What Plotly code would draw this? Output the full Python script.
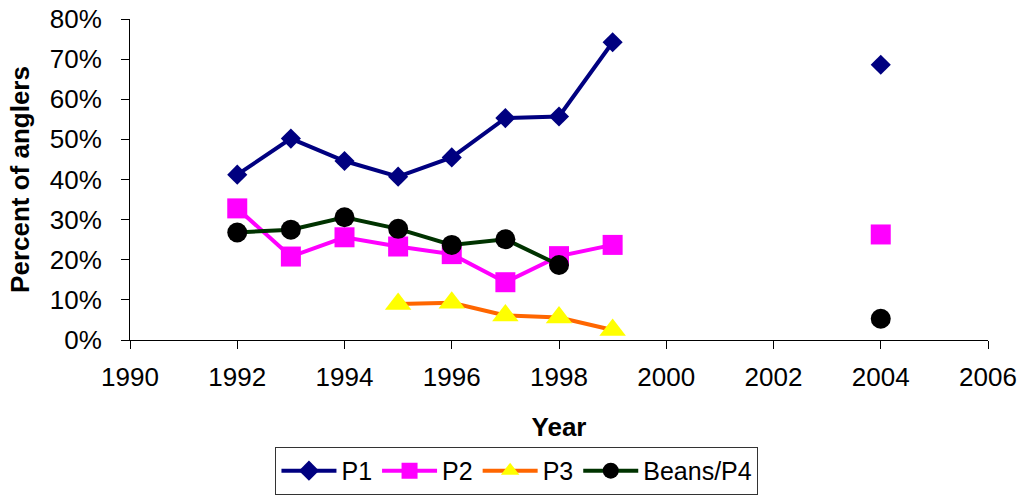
import plotly.graph_objects as go

years = [1992, 1993, 1994, 1995, 1996, 1997, 1998, 1999, 2000, 2001, 2002, 2003, 2004]
p1 = [0.412, 0.502, 0.446, 0.407, 0.455, 0.553, 0.557, 0.742, None, None, None, None, 0.686]
p2 = [0.328, 0.208, 0.256, 0.233, 0.214, 0.144, 0.209, 0.237, None, None, None, None, 0.263]
p3 = [None, None, None, 0.090, 0.093, 0.061, 0.056, 0.025, None, None, None, None, None]
p4 = [0.268, 0.275, 0.306, 0.277, 0.237, 0.251, 0.187, None, None, None, None, None, 0.053]

series = [
    ("P1", p1, "#000080", "#000080", "diamond", 15.5),
    ("P2", p2, "#FF00FF", "#FF00FF", "square", 20),
    ("P3", p3, "#FF6600", "#FFFF00", "triangle-up", 23),
    ("Beans/P4", p4, "#003300", "#000000", "circle", 20),
]

fig = go.Figure()
for name, vals, lc, mc, sym, sz in series:
    fig.add_trace(go.Scatter(
        x=years, y=vals, name=name, mode="lines+markers",
        line=dict(color=lc, width=4),
        marker=dict(color=mc, symbol=sym, size=sz, line=dict(width=0)),
        connectgaps=False,
    ))

font = "Arial, Liberation Sans, sans-serif"
fig.update_layout(
    width=1024, height=495,
    margin=dict(l=130, r=36, t=19, b=155, autoexpand=False),
    paper_bgcolor="white", plot_bgcolor="white",
    font=dict(family=font, size=26, color="black"),
    showlegend=True,
    legend=dict(
        orientation="h", x=0.451, xanchor="center", y=-0.333, yanchor="top",
        bordercolor="#333333", borderwidth=1, font=dict(size=25),
        itemwidth=55, tracegroupgap=0,
    ),
    xaxis=dict(
        range=[1990, 2006], tickmode="linear", tick0=1990, dtick=2,
        showgrid=False, zeroline=False, showline=True, linecolor="black",
        linewidth=1, ticks="outside", ticklen=8, tickcolor="black",
        tickfont=dict(size=26), ticklabelstandoff=6, automargin=False,
        title=dict(text="<b>Year</b>", font=dict(size=26), standoff=26),
    ),
    yaxis=dict(
        range=[0, 0.8], tickmode="linear", tick0=0, dtick=0.1,
        tickformat=".0%", showgrid=False, zeroline=False, showline=True,
        linecolor="black", linewidth=1, ticks="outside", ticklen=8,
        tickcolor="black", tickfont=dict(size=26), ticklabelstandoff=14,
        automargin=False,
        title=dict(text="<b>Percent of anglers</b>", font=dict(size=26), standoff=12),
    ),
)

fig.write_html("out.html")
